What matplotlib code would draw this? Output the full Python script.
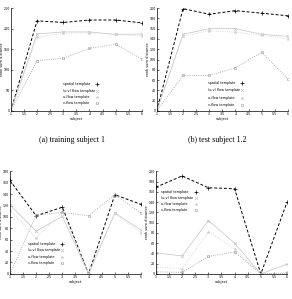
import matplotlib
matplotlib.use('Agg')
import matplotlib.pyplot as plt

# subjects on the x axis
subjects = [1, 2, 3, 4, 5, 6]
series_names = ['spatial template', '(u,v) flow template', 'u-flow template', 'v-flow template']

# (a) training subject 1
a_spatial = [0, 219, 215, 221, 221, 214]
a_uv = [0, 187, 192, 192, 186, 187]
a_u = [0, 179, 189, 190, 186, 182]
a_v = [0, 122, 128, 152, 162, 126]

# (b) test subject 1.2
b_spatial = [0, 199, 188, 195, 190, 185]
b_uv = [0, 149, 160, 160, 149, 145]
b_u = [0, 145, 156, 153, 147, 140]
b_v = [0, 69, 69, 84, 114, 62]

# (c) bottom left
c_spatial = [164, 102, 117, 0, 139, 122]
c_uv = [121, 75, 101, 0, 107, 77]
c_u = [112, 63, 110, 0, 106, 72]
c_v = [0, 103, 108, 102, 139, 107]

# (d) bottom right
d_spatial = [169, 191, 168, 166, 0, 140]
d_uv = [41, 35, 104, 60, 0, 19]
d_u = [14, 10, 82, 49, 0, 3]
d_v = [4, 3, 34, 43, 0, 1]

x_ticks = [1, 1.5, 2, 2.5, 3, 3.5, 4, 4.5, 5, 5.5, 6]
x_ticklabels = ['1', '1.5', '2', '2.5', '3', '3.5', '4', '4.5', '5', '5.5', '6']

styles = [
    dict(color='black', ls=(0, (3, 2)), lw=0.7, marker='+', ms=2.5, mew=0.5),
    dict(color='#c4c4c4', ls='-', lw=0.5, marker='x', ms=2, mew=0.5),
    dict(color='#cfcfcf', ls=':', lw=0.6, marker='*', ms=2, mew=0.4),
    dict(color='#9a9a9a', ls=':', lw=0.6, marker='s', ms=2, mew=0.4, mfc='none'),
]

fig = plt.figure(figsize=(2.92, 2.99), dpi=100)
fig.patch.set_facecolor('white')


def draw_key(ax, x_text, x_mark, y_top, dy):
    # gnuplot style key: label left-justified, sample marker to the right
    for i, (name, st) in enumerate(zip(series_names, styles)):
        y = y_top - i * dy
        ax.text(x_text, y, name, transform=ax.transAxes, fontsize=2.4,
                ha='left', va='center')
        mk = {k: v for k, v in st.items() if k not in ('ls', 'lw')}
        ax.plot([x_mark], [y], transform=ax.transAxes, ls='none',
                clip_on=False, **mk)


def draw_panel(rect, data, yticks, key):
    ax = fig.add_axes(rect)
    for vals, name, st in zip(data, series_names, styles):
        ax.plot(subjects, vals, label=name, **st)
    ax.set_xlim(1, 6)
    ax.set_ylim(yticks[0], yticks[-1])
    ax.set_xticks(x_ticks)
    ax.set_xticklabels(x_ticklabels)
    ax.set_yticks(yticks)
    ax.tick_params(labelsize=2.3, length=1.2, width=0.4, pad=0.8, direction='in')
    for s in ['top', 'right']:
        ax.spines[s].set_visible(False)
    for s in ['left', 'bottom']:
        ax.spines[s].set_linewidth(0.5)
    ax.set_xlabel('subject', fontsize=2.6, labelpad=0.5)
    ax.set_ylabel('rank sum distance', fontsize=2.6)
    ax.yaxis.set_label_coords(-0.055, 0.5)
    draw_key(ax, *key)
    return ax


draw_panel([0.037, 0.629, 0.449, 0.344],
           [a_spatial, a_uv, a_u, a_v], list(range(0, 251, 50)),
           (0.40, 0.66, 0.26, 0.062))
draw_panel([0.537, 0.629, 0.449, 0.344],
           [b_spatial, b_uv, b_u, b_v], list(range(0, 201, 20)),
           (0.39, 0.65, 0.27, 0.07))
draw_panel([0.034, 0.084, 0.449, 0.343],
           [c_spatial, c_uv, c_u, c_v], list(range(0, 181, 20)),
           (0.14, 0.40, 0.294, 0.064))
draw_panel([0.534, 0.084, 0.449, 0.343],
           [d_spatial, d_uv, d_u, d_v], list(range(0, 201, 20)),
           (0.04, 0.305, 0.80, 0.06))

fig.text(0.245, 0.532, '(a) training subject 1', ha='center', va='center',
         fontsize=5.7, family='Liberation Serif')
fig.text(0.745, 0.532, '(b) test subject 1.2', ha='center', va='center',
         fontsize=5.7, family='Liberation Serif')

fig.savefig('out.png', dpi=100, facecolor='white')
